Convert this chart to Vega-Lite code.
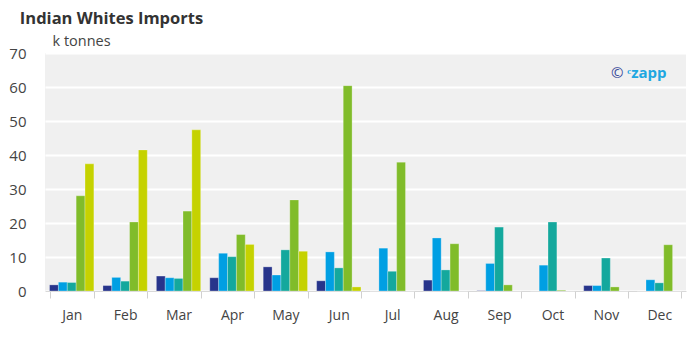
{
  "$schema": "https://vega.github.io/schema/vega-lite/v6.json",
  "autosize": {"type": "none"},
  "width": 641,
  "height": 238,
  "padding": {"left": 45, "top": 53, "right": 12, "bottom": 51},
  "background": "white",
  "title": {
    "text": "Indian Whites Imports",
    "anchor": "start",
    "dx": 11,
    "offset": 6,
    "font": "Open Sans",
    "fontSize": 16.5,
    "fontWeight": "bold",
    "color": "#333333"
  },
  "config": {
    "view": {"fill": "#f0f0f0", "stroke": null},
    "font": "Open Sans"
  },
  "datasets": {
    "imports": [
      {"month": "Jan", "year": "2019", "value": 1.8},
      {"month": "Jan", "year": "2020", "value": 2.6},
      {"month": "Jan", "year": "2021", "value": 2.5},
      {"month": "Jan", "year": "2022", "value": 28.0},
      {"month": "Jan", "year": "2023", "value": 37.4},
      {"month": "Feb", "year": "2019", "value": 1.6},
      {"month": "Feb", "year": "2020", "value": 4.0},
      {"month": "Feb", "year": "2021", "value": 2.9},
      {"month": "Feb", "year": "2022", "value": 20.3},
      {"month": "Feb", "year": "2023", "value": 41.5},
      {"month": "Mar", "year": "2019", "value": 4.4},
      {"month": "Mar", "year": "2020", "value": 3.9},
      {"month": "Mar", "year": "2021", "value": 3.7},
      {"month": "Mar", "year": "2022", "value": 23.5},
      {"month": "Mar", "year": "2023", "value": 47.4},
      {"month": "Apr", "year": "2019", "value": 3.9},
      {"month": "Apr", "year": "2020", "value": 11.1},
      {"month": "Apr", "year": "2021", "value": 10.1},
      {"month": "Apr", "year": "2022", "value": 16.6},
      {"month": "Apr", "year": "2023", "value": 13.7},
      {"month": "May", "year": "2019", "value": 7.1},
      {"month": "May", "year": "2020", "value": 4.7},
      {"month": "May", "year": "2021", "value": 12.1},
      {"month": "May", "year": "2022", "value": 26.8},
      {"month": "May", "year": "2023", "value": 11.7},
      {"month": "Jun", "year": "2019", "value": 3.0},
      {"month": "Jun", "year": "2020", "value": 11.5},
      {"month": "Jun", "year": "2021", "value": 6.8},
      {"month": "Jun", "year": "2022", "value": 60.4},
      {"month": "Jun", "year": "2023", "value": 1.2},
      {"month": "Jul", "year": "2019", "value": 0},
      {"month": "Jul", "year": "2020", "value": 12.6},
      {"month": "Jul", "year": "2021", "value": 5.8},
      {"month": "Jul", "year": "2022", "value": 37.9},
      {"month": "Jul", "year": "2023", "value": 0},
      {"month": "Aug", "year": "2019", "value": 3.2},
      {"month": "Aug", "year": "2020", "value": 15.6},
      {"month": "Aug", "year": "2021", "value": 6.2},
      {"month": "Aug", "year": "2022", "value": 13.9},
      {"month": "Aug", "year": "2023", "value": 0},
      {"month": "Sep", "year": "2019", "value": 0.1},
      {"month": "Sep", "year": "2020", "value": 8.1},
      {"month": "Sep", "year": "2021", "value": 18.8},
      {"month": "Sep", "year": "2022", "value": 1.8},
      {"month": "Sep", "year": "2023", "value": 0},
      {"month": "Oct", "year": "2019", "value": 0},
      {"month": "Oct", "year": "2020", "value": 7.6},
      {"month": "Oct", "year": "2021", "value": 20.3},
      {"month": "Oct", "year": "2022", "value": 0.2},
      {"month": "Oct", "year": "2023", "value": 0},
      {"month": "Nov", "year": "2019", "value": 1.6},
      {"month": "Nov", "year": "2020", "value": 1.6},
      {"month": "Nov", "year": "2021", "value": 9.7},
      {"month": "Nov", "year": "2022", "value": 1.2},
      {"month": "Nov", "year": "2023", "value": 0},
      {"month": "Dec", "year": "2019", "value": 0},
      {"month": "Dec", "year": "2020", "value": 3.3},
      {"month": "Dec", "year": "2021", "value": 2.4},
      {"month": "Dec", "year": "2022", "value": 13.6},
      {"month": "Dec", "year": "2023", "value": 0}
    ],
    "copyright": [
      {"month": "Dec", "value": 64, "label": "©"}
    ],
    "brand": [
      {"month": "Dec", "value": 64, "label": "ᶜzapp"}
    ]
  },
  "encoding": {
    "x": {
      "field": "month",
      "type": "nominal",
      "sort": ["Jan","Feb","Mar","Apr","May","Jun","Jul","Aug","Sep","Oct","Nov","Dec"],
      "scale": {"paddingInner": 0.17, "paddingOuter": 0.085},
      "axis": {
        "title": null,
        "labelAngle": 0,
        "labelFontSize": 14,
        "labelColor": "#444444",
        "labelPadding": 10,
        "tickBand": "extent",
        "tickColor": "#d0d0d0",
        "tickSize": 7,
        "domainColor": "#d8d8d8",
        "grid": false
      }
    },
    "y": {
      "field": "value",
      "type": "quantitative",
      "scale": {"domain": [0, 70], "nice": false},
      "axis": {
        "title": "k tonnes",
        "titleAngle": 0,
        "titleAlign": "left",
        "titleBaseline": "alphabetic",
        "titleX": 7,
        "titleY": -8,
        "titleFontSize": 14.5,
        "titleFontWeight": "normal",
        "titleColor": "#444444",
        "values": [0,10,20,30,40,50,60,70],
        "labelOverlap": false,
        "labelFontSize": 15,
        "labelColor": "#444444",
        "labelPadding": 19,
        "ticks": false,
        "domain": false,
        "gridColor": "white",
        "gridWidth": 2
      }
    }
  },
  "layer": [
    {
      "data": {"name": "imports"},
      "mark": {"type": "bar", "stroke": "white", "strokeOpacity": 0.35, "strokeWidth": 0.8},
      "encoding": {
        "xOffset": {"field": "year", "type": "nominal"},
        "color": {
          "field": "year",
          "type": "nominal",
          "scale": {"range": ["#27348b", "#009fe3", "#14a89d", "#80bc2a", "#c5d200"]},
          "legend": null
        }
      }
    },
    {
      "data": {"name": "copyright"},
      "mark": {"type": "text", "fontSize": 15, "baseline": "middle", "align": "center", "dx": -42, "color": "#3a4a9a"},
      "encoding": {
        "text": {"field": "label"}
      }
    },
    {
      "data": {"name": "brand"},
      "mark": {"type": "text", "fontSize": 15, "fontWeight": "bold", "baseline": "middle", "align": "left", "dx": -32, "color": "#1ea7e1"},
      "encoding": {
        "text": {"field": "label"}
      }
    }
  ]
}
